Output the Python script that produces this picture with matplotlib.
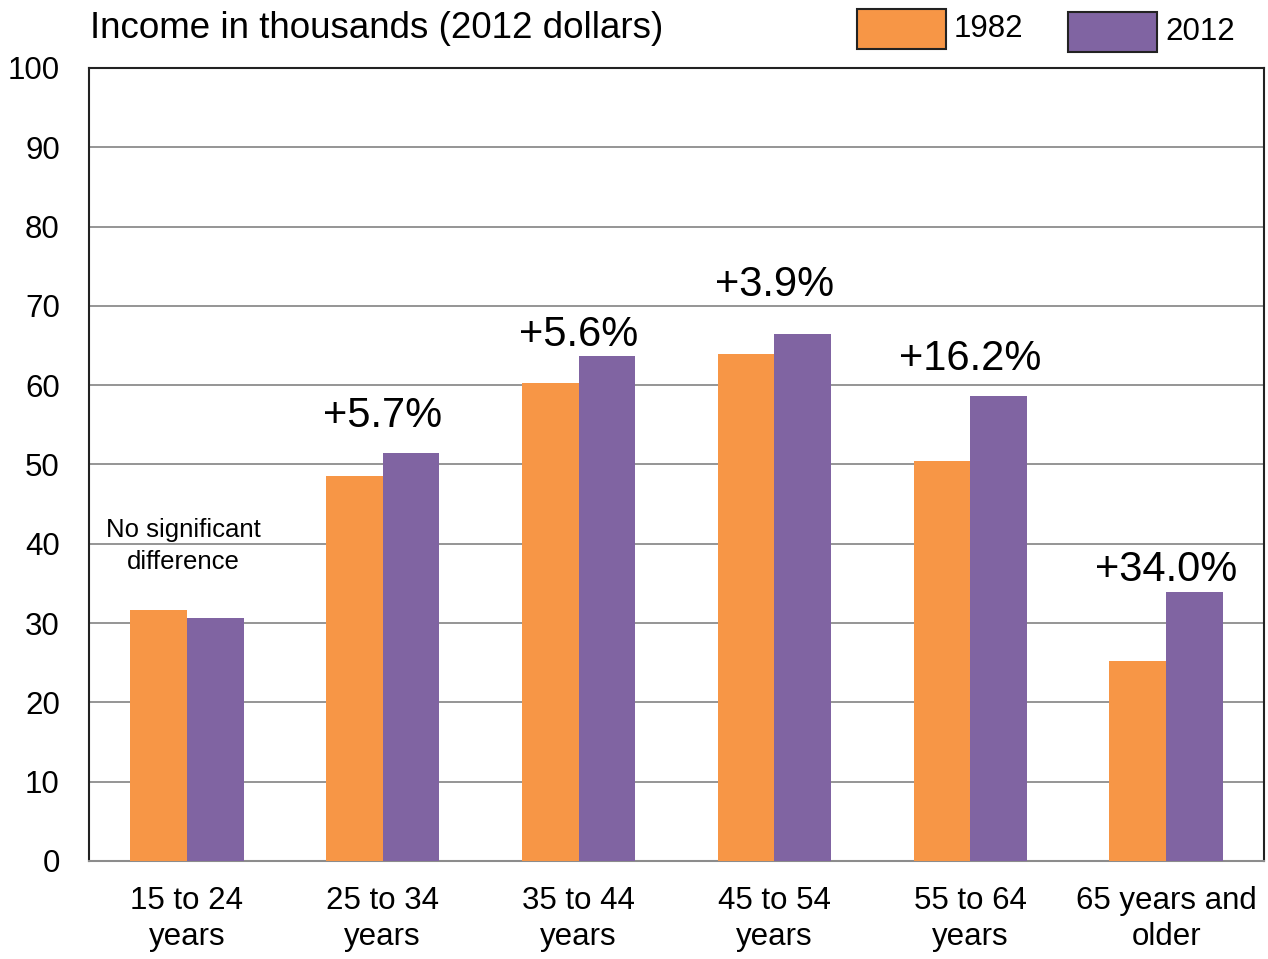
import matplotlib
matplotlib.use("Agg")
import matplotlib.pyplot as plt
import numpy as np
from matplotlib.patches import Rectangle

plt.rcParams['font.family'] = ['Liberation Sans', 'DejaVu Sans']

categories = ["15 to 24\nyears", "25 to 34\nyears", "35 to 44\nyears",
              "45 to 54\nyears", "55 to 64\nyears", "65 years and\nolder"]
income_1982 = [31.6, 48.6, 60.3, 63.9, 50.4, 25.2]
income_2012 = [30.6, 51.4, 63.7, 66.5, 58.6, 33.9]
change_labels = ["No significant\ndifference", "+5.7%", "+5.6%", "+3.9%", "+16.2%", "+34.0%"]
label_y = [39.7, 56.1, 66.3, 72.6, 63.3, 36.7]
yticks = [0, 10, 20, 30, 40, 50, 60, 70, 80, 90, 100]

c82 = "#F79646"
c12 = "#8064A2"

fig = plt.figure(figsize=(12.68, 9.59), dpi=100)
W, H = 1268, 959
ax = fig.add_axes([89 / W, (H - 861) / H, (1264 - 89) / W, (861 - 68) / H])

x = np.arange(len(categories))
bw = 0.289
ax.bar(x - bw / 2, income_1982, bw, color=c82, label="1982", zorder=3)
ax.bar(x + bw / 2, income_2012, bw, color=c12, label="2012", zorder=3)

ax.set_xlim(-0.5, len(categories) - 0.5)
ax.set_ylim(0, 100)
ax.set_yticks(yticks)
ax.set_yticklabels([str(t) for t in yticks], fontsize=22.5)
ax.set_xticks(x)
ax.set_xticklabels(categories, fontsize=22.5, linespacing=1.25)
ax.tick_params(axis='both', length=0)
ax.tick_params(axis='y', pad=21)
ax.tick_params(axis='x', pad=18)
ax.yaxis.grid(True, color="#8C8C8C", linewidth=1.3, zorder=0)
ax.set_axisbelow(True)
for s in ['top', 'left', 'right']:
    ax.spines[s].set_color("#222222")
    ax.spines[s].set_linewidth(1.5)
ax.spines['bottom'].set_color("#8C8C8C")
ax.spines['bottom'].set_linewidth(1.5)

for i, (lab, ly) in enumerate(zip(change_labels, label_y)):
    if i == 0:
        ax.text(x[i] - 0.02, ly, lab, ha='center', va='center', fontsize=18.5, linespacing=1.4)
    else:
        ax.text(x[i], ly, lab, ha='center', va='center', fontsize=30)

fig.text(90 / W, 1 - 28 / H, "Income in thousands (2012 dollars)", ha='left', va='center', fontsize=26.5)

# legend
for (lx, ly, col, txt) in [(857, 9, c82, "1982"), (1068, 12, c12, "2012")]:
    fig.patches.append(Rectangle((lx / W, 1 - (ly + 40) / H), 89 / W, 40 / H,
                                 transform=fig.transFigure, facecolor=col,
                                 edgecolor="#222222", linewidth=1.5))
    fig.text((lx + 97) / W, 1 - (ly + 20) / H, txt, ha='left', va='center', fontsize=22.5)

fig.savefig("out.png", dpi=100)
